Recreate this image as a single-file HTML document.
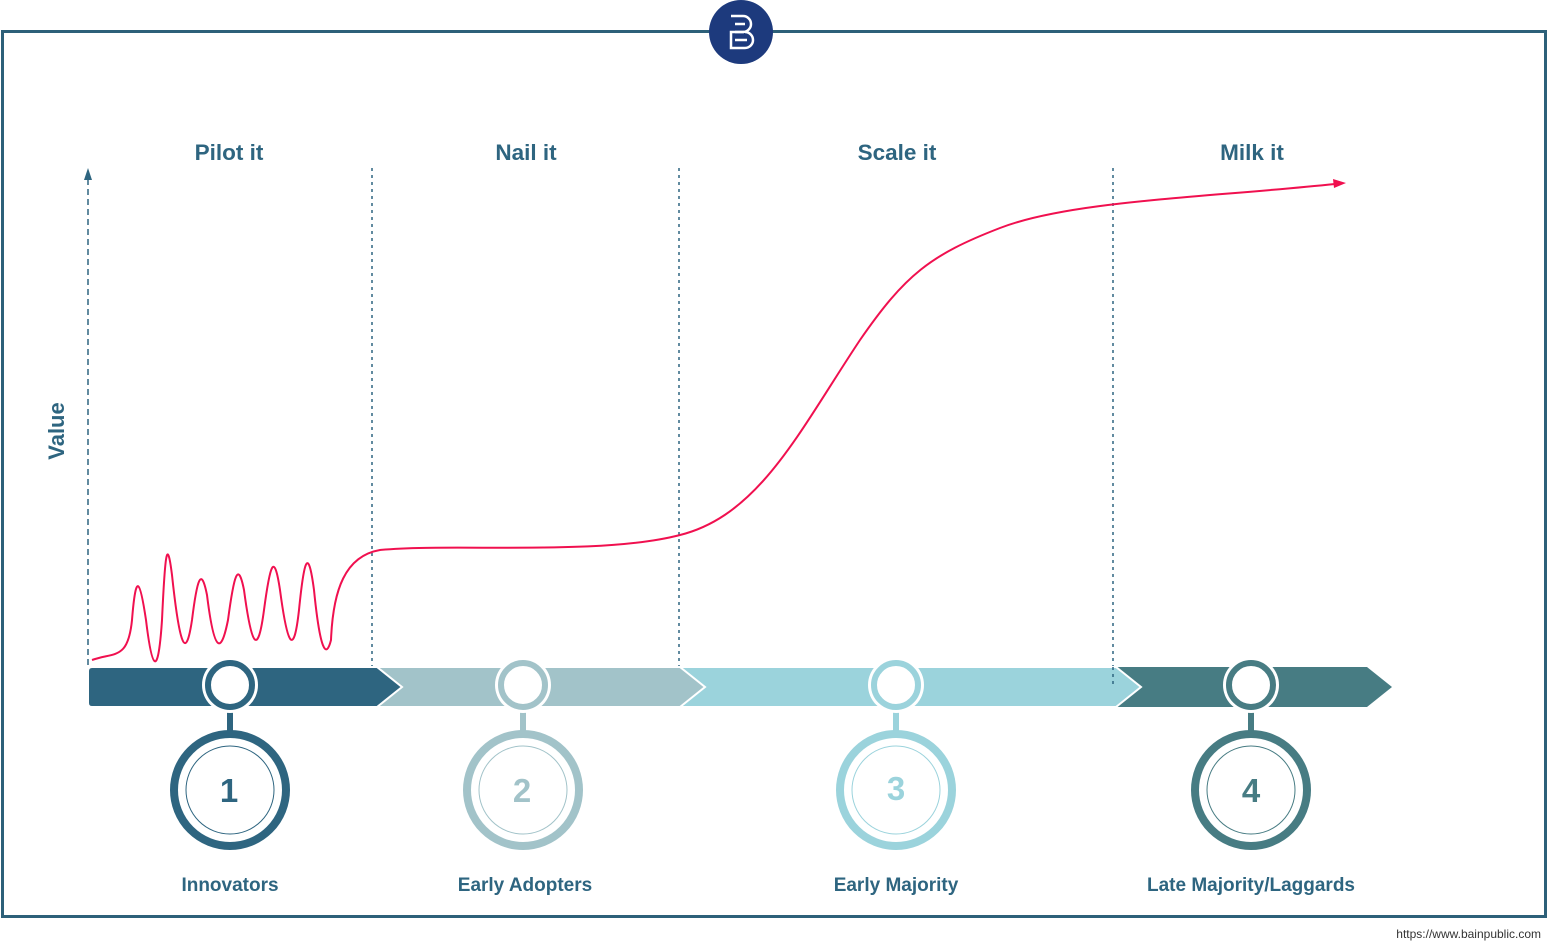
<!DOCTYPE html>
<html><head><meta charset="utf-8"><style>
html,body{margin:0;padding:0;background:#fff;}
svg{display:block;}
text{font-family:"Liberation Sans",sans-serif;}
</style></head><body>
<svg width="1548" height="946" viewBox="0 0 1548 946" xmlns="http://www.w3.org/2000/svg">
<rect x="2.5" y="31.5" width="1543" height="885" fill="none" stroke="#2d6079" stroke-width="3"/>
<circle cx="741" cy="32" r="32" fill="#1d3a7d"/>
<g fill="none" stroke="#fff" stroke-width="2.5">
<path d="M731 16 H743 A8 8 0 0 1 743 32 H731 V48 H745 A8 8 0 0 0 745 32"/>
<path d="M735 24 H745 M735 32 H744 M735 40 H747"/>
</g>
<g font-size="22.5" font-weight="bold" fill="#2e6580" text-anchor="middle">
<text x="229" y="160">Pilot it</text>
<text x="526" y="160">Nail it</text>
<text x="897" y="160">Scale it</text>
<text x="1252" y="160">Milk it</text>
</g>
<text x="64" y="431" font-size="22" font-weight="bold" fill="#2e6580" text-anchor="middle" transform="rotate(-90 64 431)">Value</text>
<line x1="88" y1="665" x2="88" y2="178" stroke="#2e6580" stroke-width="1.5" stroke-dasharray="6,4"/>
<path d="M84 180 L88 168 L92 180 Z" fill="#2e6580"/>
<g stroke="#2e6580" stroke-width="1.5" stroke-dasharray="3,4">
<line x1="372" y1="168" x2="372" y2="667"/>
<line x1="679" y1="168" x2="679" y2="685"/>
<line x1="1113" y1="168" x2="1113" y2="685"/>
</g>
<polygon points="1116,667 1367,667 1392,687 1367,707 1116,707" fill="#477c83"/>
<polygon points="680,667 1116,667 1141,687 1116,707 680,707" fill="#9bd3dc" stroke="#fff" stroke-width="2"/>
<polygon points="377,667 680,667 705,687 680,707 377,707" fill="#a2c3c9" stroke="#fff" stroke-width="2"/>
<path d="M92,667 H377 L402,687 L377,707 H92 Q88,707 88,703 V671 Q88,667 92,667 Z" fill="#2e6580" stroke="#fff" stroke-width="2"/>
<line x1="1113" y1="667" x2="1113" y2="685" stroke="#2e6580" stroke-width="1.5" stroke-dasharray="3,4"/>
<path d="M92,660 C115,652 128,660 132,620 C136,570 140,580 146,620 C152,670 158,680 162,620 C165,555 167,535 172,575 C180,650 186,660 192,620 C197,580 201,565 207,595 C215,660 222,650 228,620 C234,575 238,560 244,590 C252,650 258,655 264,610 C270,565 274,550 280,590 C288,650 294,655 299,610 C304,560 308,545 314,590 C320,650 326,660 331,640 C333,590 345,556 380,550 C450,543 600,556 680,535 C760,515 800,430 860,340 C905,275 930,255 1000,228 S1200,198 1335,184" fill="none" stroke="#f0104f" stroke-width="2"/>
<path d="M1333,179 L1346,183 L1334,188 Z" fill="#f0104f"/>
<g>
<g stroke-width="6">
<line x1="230" y1="707" x2="230" y2="735" stroke="#2e6580"/>
<line x1="523" y1="707" x2="523" y2="735" stroke="#a2c3c9"/>
<line x1="896" y1="707" x2="896" y2="735" stroke="#9bd3dc"/>
<line x1="1251" y1="707" x2="1251" y2="735" stroke="#477c83"/>
</g>
<circle cx="230" cy="685" r="28" fill="#fff"/><circle cx="230" cy="685" r="22" fill="#fff" stroke="#2e6580" stroke-width="6"/>
<circle cx="523" cy="685" r="28" fill="#fff"/><circle cx="523" cy="685" r="22" fill="#fff" stroke="#a2c3c9" stroke-width="6"/>
<circle cx="896" cy="685" r="28" fill="#fff"/><circle cx="896" cy="685" r="22" fill="#fff" stroke="#9bd3dc" stroke-width="6"/>
<circle cx="1251" cy="685" r="28" fill="#fff"/><circle cx="1251" cy="685" r="22" fill="#fff" stroke="#477c83" stroke-width="6"/>
<circle cx="230" cy="790" r="56" fill="#fff" stroke="#2e6580" stroke-width="8"/><circle cx="230" cy="790" r="44" fill="none" stroke="#2e6580" stroke-width="1"/>
<circle cx="523" cy="790" r="56" fill="#fff" stroke="#a2c3c9" stroke-width="8"/><circle cx="523" cy="790" r="44" fill="none" stroke="#a2c3c9" stroke-width="1"/>
<circle cx="896" cy="790" r="56" fill="#fff" stroke="#9bd3dc" stroke-width="8"/><circle cx="896" cy="790" r="44" fill="none" stroke="#9bd3dc" stroke-width="1"/>
<circle cx="1251" cy="790" r="56" fill="#fff" stroke="#477c83" stroke-width="8"/><circle cx="1251" cy="790" r="44" fill="none" stroke="#477c83" stroke-width="1"/>
</g>
<g font-size="33" font-weight="bold" text-anchor="middle">
<text x="229" y="802" fill="#2e6580">1</text>
<text x="522" y="802" fill="#a2c3c9">2</text>
<text x="896" y="800" fill="#9bd3dc">3</text>
<text x="1251" y="802" fill="#477c83">4</text>
</g>
<g font-size="19" font-weight="bold" fill="#2e6580" text-anchor="middle">
<text x="230" y="891">Innovators</text>
<text x="525" y="891">Early Adopters</text>
<text x="896" y="891">Early Majority</text>
<text x="1251" y="891">Late Majority/Laggards</text>
</g>
<text x="1541" y="938" font-size="12" fill="#333" text-anchor="end">https://www.bainpublic.com</text>
</svg>
</body></html>
